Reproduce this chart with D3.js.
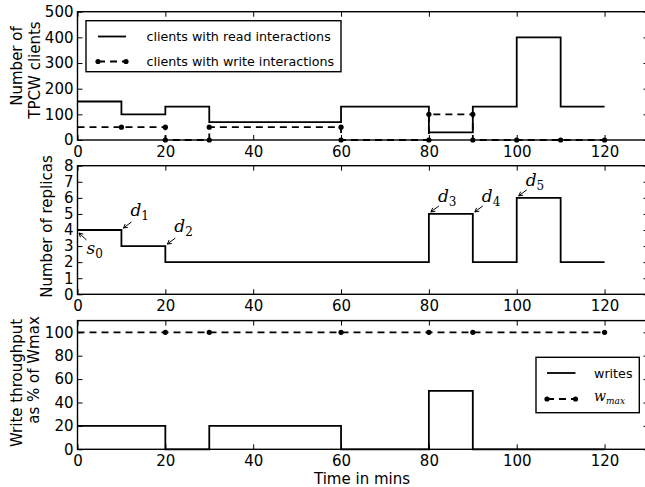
<!DOCTYPE html>
<html>
<head>
<meta charset="utf-8">
<script src="https://cdn.jsdelivr.net/npm/d3@7"></script>
<style>
body { margin: 0; background: #fff; }
text { font-family: "DejaVu Sans", sans-serif; fill: #000; }
.math { font-family: "DejaVu Serif", "Liberation Serif", serif; font-style: italic; }
</style>
</head>
<body>
<svg id="chart" width="645" height="487"></svg>
<script>
// time axis (minutes)
var xTicks = [0, 20, 40, 60, 80, 100, 120];

// top panel: TPCW clients
var readX = [0, 10, 20, 30, 60, 80, 90, 100, 110, 120];
var readY = [150, 100, 130, 70, 130, 30, 130, 400, 130, 130];
var writeClientX = [0, 10, 20, 20, 30, 30, 60, 60, 80, 80, 90, 90, 100, 110, 120];
var writeClientY = [50, 50, 50, 0, 0, 50, 50, 0, 0, 100, 100, 0, 0, 0, 0];
var clientTicks = [0, 100, 200, 300, 400, 500];

// middle panel: replicas
var replicaX = [0, 10, 20, 80, 90, 100, 110, 120];
var replicaY = [4, 3, 2, 5, 2, 6, 2, 2];
var replicaTicks = [0, 1, 2, 3, 4, 5, 6, 7, 8];
var notes = [
    { base: "s", sub: "0", x: 0, y: 4 },
    { base: "d", sub: "1", x: 10, y: 4 },
    { base: "d", sub: "2", x: 20, y: 3 },
    { base: "d", sub: "3", x: 80, y: 5 },
    { base: "d", sub: "4", x: 90, y: 5 },
    { base: "d", sub: "5", x: 100, y: 6 }
];

// bottom panel: write throughput
var writesX = [0, 20, 30, 60, 80, 90, 120];
var writesY = [20, 0, 20, 0, 50, 0, 0];
var wmaxX = [0, 20, 30, 60, 80, 90, 120];
var wmaxY = [100, 100, 100, 100, 100, 100, 100];
var throughputTicks = [0, 20, 40, 60, 80, 100];

var svg = d3.select("#chart");
var lw = 1.8;
var dash = "7,5";

var x = d3.scaleLinear().domain([0, 130]).range([77.5, 648.5]);

var panels = [
    { y: d3.scaleLinear().domain([0, 500]).range([140, 11.7]), ticks: clientTicks },
    { y: d3.scaleLinear().domain([0, 8]).range([294.3, 165.7]), ticks: replicaTicks },
    { y: d3.scaleLinear().domain([0, 110]).range([449.3, 320.6]), ticks: throughputTicks }
];

function zip(xs, ys) {
    return xs.map(function(v, i) { return [v, ys[i]]; });
}

// frames and axes
panels.forEach(function(p) {
    var y0 = p.y.range()[0], y1 = p.y.range()[1];

    var bottom = svg.append("g").attr("transform", "translate(0," + y0 + ")")
        .call(d3.axisBottom(x).tickValues(xTicks).tickSize(-5).tickPadding(6));
    var top = svg.append("g").attr("transform", "translate(0," + y1 + ")")
        .call(d3.axisTop(x).tickValues(xTicks).tickSize(-5).tickFormat(""));
    var left = svg.append("g").attr("transform", "translate(" + x(0) + ",0)")
        .call(d3.axisLeft(p.y).tickValues(p.ticks).tickSize(-5).tickPadding(4));
    var right = svg.append("g").attr("transform", "translate(" + x(130) + ",0)")
        .call(d3.axisRight(p.y).tickValues(p.ticks).tickSize(-5).tickFormat(""));

    [bottom, top, left, right].forEach(function(g) {
        g.select(".domain").remove();
        g.selectAll(".tick line").attr("stroke", "#000").attr("stroke-width", 1);
        g.selectAll(".tick text").style("font-family", "DejaVu Sans").style("font-size", "15px");
    });

    svg.append("rect")
        .attr("x", x(0)).attr("y", y1)
        .attr("width", x(130) - x(0)).attr("height", y0 - y1)
        .attr("fill", "none").attr("stroke", "#000").attr("stroke-width", 1.4);
});

var stepLine = function(yScale) {
    return d3.line().x(function(d) { return x(d[0]); }).y(function(d) { return yScale(d[1]); }).curve(d3.curveStepAfter);
};
var plainLine = function(yScale) {
    return d3.line().x(function(d) { return x(d[0]); }).y(function(d) { return yScale(d[1]); });
};

// top panel lines
var yTop = panels[0].y;
svg.append("path").datum(zip(readX, readY))
    .attr("d", stepLine(yTop)).attr("fill", "none").attr("stroke", "#000").attr("stroke-width", lw);

var wc = zip(writeClientX, writeClientY);
svg.append("path").datum(wc)
    .attr("d", plainLine(yTop)).attr("fill", "none").attr("stroke", "#000")
    .attr("stroke-width", lw).attr("stroke-dasharray", dash);
svg.selectAll(".wcdot").data(wc.filter(function(d) { return d[0] > 0; }))
    .join("circle")
    .attr("cx", function(d) { return x(d[0]); })
    .attr("cy", function(d) { return yTop(d[1]); })
    .attr("r", 2.6).attr("fill", "#000");

// middle panel
var yMid = panels[1].y;
svg.append("path").datum(zip(replicaX, replicaY))
    .attr("d", stepLine(yMid)).attr("fill", "none").attr("stroke", "#000").attr("stroke-width", lw);

notes.forEach(function(n) {
    var px = x(n.x), py = yMid(n.y);
    var isStart = n.base == "s";
    var tx = px + 9, ty = isStart ? py + 24 : py - 12;
    if (n.sub == "1") ty = py - 14;
    if (n.sub == "2") ty = py - 14;
    var tail = isStart ? [px + 9, py + 10] : [px + 10, py - 8];
    var head = isStart ? [px + 1.5, py + 3] : [px + 2, py - 2];

    var ang = Math.atan2(head[1] - tail[1], head[0] - tail[0]);
    var hl = 4.5, hw = 0.5;
    var p1 = [head[0] - hl * Math.cos(ang - hw), head[1] - hl * Math.sin(ang - hw)];
    var p2 = [head[0] - hl * Math.cos(ang + hw), head[1] - hl * Math.sin(ang + hw)];

    svg.append("path")
        .attr("d", "M" + tail + "L" + head + "M" + p1 + "L" + head + "L" + p2)
        .attr("fill", "none").attr("stroke", "#000").attr("stroke-width", 1);

    var t = svg.append("text").attr("class", "math")
        .attr("x", tx).attr("y", ty).style("font-size", "17px");
    t.append("tspan").text(n.base);
    t.append("tspan").attr("dy", 4).style("font-size", "12px").style("font-style", "normal").text(n.sub);
});

// bottom panel
var yBot = panels[2].y;
svg.append("path").datum(zip(writesX, writesY))
    .attr("d", stepLine(yBot)).attr("fill", "none").attr("stroke", "#000").attr("stroke-width", lw);

var wm = zip(wmaxX, wmaxY);
svg.append("path").datum(wm)
    .attr("d", plainLine(yBot)).attr("fill", "none").attr("stroke", "#000")
    .attr("stroke-width", lw).attr("stroke-dasharray", dash);
svg.selectAll(".wmdot").data(wm.filter(function(d) { return d[0] > 0; }))
    .join("circle")
    .attr("cx", function(d) { return x(d[0]); })
    .attr("cy", function(d) { return yBot(d[1]); })
    .attr("r", 2.6).attr("fill", "#000");

// legends
function legendRow(x0, x1, y, dashed) {
    svg.append("line").attr("x1", x0).attr("x2", x1).attr("y1", y).attr("y2", y)
        .attr("stroke", "#000").attr("stroke-width", lw)
        .attr("stroke-dasharray", dashed ? dash : null);
    if (dashed) {
        [x0, x1].forEach(function(cx) {
            svg.append("circle").attr("cx", cx).attr("cy", y).attr("r", 2.6).attr("fill", "#000");
        });
    }
}

svg.append("rect").attr("x", 86).attr("y", 20.7).attr("width", 255).attr("height", 51)
    .attr("fill", "#fff").attr("stroke", "#000").attr("stroke-width", 1.4);
legendRow(98, 126, 36.5, false);
legendRow(98, 126, 61.5, true);
svg.append("text").attr("x", 146.5).attr("y", 41).style("font-size", "12.7px").text("clients with read interactions");
svg.append("text").attr("x", 146.5).attr("y", 66).style("font-size", "12.7px").text("clients with write interactions");

svg.append("rect").attr("x", 536).attr("y", 357.3).attr("width", 103.3).attr("height", 55.4)
    .attr("fill", "#fff").attr("stroke", "#000").attr("stroke-width", 1.4);
legendRow(547, 575.5, 373, false);
legendRow(547, 575.5, 399, true);
svg.append("text").attr("x", 594).attr("y", 377.5).style("font-size", "12.7px").text("writes");
var wt = svg.append("text").attr("class", "math").attr("x", 594).attr("y", 401).style("font-size", "14px");
wt.append("tspan").text("w");
wt.append("tspan").attr("dy", 3).style("font-size", "9px").text("max");

// axis titles
function yTitle(cx, cy, label) {
    svg.append("text")
        .attr("transform", "translate(" + cx + "," + cy + ") rotate(-90)")
        .attr("text-anchor", "middle")
        .attr("dominant-baseline", "central")
        .style("font-size", "15px")
        .text(label);
}
yTitle(16.5, 66, "Number of");
yTitle(35, 70, "TPCW clients");
yTitle(46.5, 226.5, "Number of replicas");
yTitle(16.5, 383, "Write throughput");
yTitle(33.5, 370, "as % of Wmax");

svg.append("text").attr("x", 362).attr("y", 484).attr("text-anchor", "middle")
    .style("font-size", "15px").text("Time in mins");
</script>
</body>
</html>
